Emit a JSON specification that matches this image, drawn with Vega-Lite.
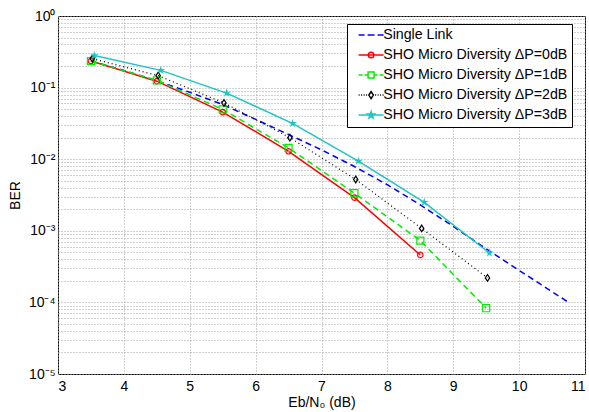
{
  "$schema": "https://vega.github.io/schema/vega-lite/v6.json",
  "width": 527,
  "height": 358,
  "autosize": {"type": "none"},
  "padding": {"left": 58, "top": 16, "right": 4, "bottom": 38},
  "background": "white",
  "config": {
    "view": {"stroke": "#000000", "strokeWidth": 1},
    "font": "Liberation Sans",
    "axis": {
      "labelFont": "Liberation Sans",
      "labelFontSize": 14,
      "labelColor": "#000000",
      "titleFont": "Liberation Sans",
      "titleFontSize": 14,
      "titleFontWeight": "normal",
      "titleColor": "#000000",
      "domain": false,
      "ticks": false,
      "grid": true,
      "gridColor": "#a0a0a0",
      "gridDash": [1, 2],
      "gridWidth": 1
    }
  },
  "data": {
    "values": [
      {"series": "Single Link", "x": 3.5, "y": 0.235},
      {"series": "Single Link", "x": 4.0, "y": 0.174},
      {"series": "Single Link", "x": 4.5, "y": 0.124},
      {"series": "Single Link", "x": 5.0, "y": 0.086},
      {"series": "Single Link", "x": 5.5, "y": 0.058},
      {"series": "Single Link", "x": 6.0, "y": 0.036},
      {"series": "Single Link", "x": 6.5, "y": 0.0221},
      {"series": "Single Link", "x": 7.0, "y": 0.0135},
      {"series": "Single Link", "x": 7.5, "y": 0.0079},
      {"series": "Single Link", "x": 8.0, "y": 0.0044},
      {"series": "Single Link", "x": 8.5, "y": 0.0023},
      {"series": "Single Link", "x": 9.0, "y": 0.00115},
      {"series": "Single Link", "x": 9.5, "y": 0.00056},
      {"series": "Single Link", "x": 10.0, "y": 0.00028},
      {"series": "Single Link", "x": 10.5, "y": 0.000141},
      {"series": "Single Link", "x": 10.75, "y": 0.0001},
      {"series": "SHO Micro Diversity ΔP=0dB", "x": 3.5, "y": 0.235},
      {"series": "SHO Micro Diversity ΔP=0dB", "x": 4.5, "y": 0.123},
      {"series": "SHO Micro Diversity ΔP=0dB", "x": 5.5, "y": 0.0455},
      {"series": "SHO Micro Diversity ΔP=0dB", "x": 6.5, "y": 0.0129},
      {"series": "SHO Micro Diversity ΔP=0dB", "x": 7.5, "y": 0.0029},
      {"series": "SHO Micro Diversity ΔP=0dB", "x": 8.5, "y": 0.00046},
      {"series": "SHO Micro Diversity ΔP=1dB", "x": 3.5, "y": 0.235},
      {"series": "SHO Micro Diversity ΔP=1dB", "x": 4.5, "y": 0.126},
      {"series": "SHO Micro Diversity ΔP=1dB", "x": 5.5, "y": 0.0495},
      {"series": "SHO Micro Diversity ΔP=1dB", "x": 6.5, "y": 0.0144},
      {"series": "SHO Micro Diversity ΔP=1dB", "x": 7.5, "y": 0.00335},
      {"series": "SHO Micro Diversity ΔP=1dB", "x": 8.5, "y": 0.00073},
      {"series": "SHO Micro Diversity ΔP=1dB", "x": 9.5, "y": 0.000083},
      {"series": "SHO Micro Diversity ΔP=2dB", "x": 3.52, "y": 0.254},
      {"series": "SHO Micro Diversity ΔP=2dB", "x": 4.52, "y": 0.147},
      {"series": "SHO Micro Diversity ΔP=2dB", "x": 5.52, "y": 0.061},
      {"series": "SHO Micro Diversity ΔP=2dB", "x": 6.52, "y": 0.020},
      {"series": "SHO Micro Diversity ΔP=2dB", "x": 7.52, "y": 0.0052},
      {"series": "SHO Micro Diversity ΔP=2dB", "x": 8.52, "y": 0.00108},
      {"series": "SHO Micro Diversity ΔP=2dB", "x": 9.52, "y": 0.00022},
      {"series": "SHO Micro Diversity ΔP=3dB", "x": 3.55, "y": 0.28},
      {"series": "SHO Micro Diversity ΔP=3dB", "x": 4.56, "y": 0.174},
      {"series": "SHO Micro Diversity ΔP=3dB", "x": 5.56, "y": 0.0838},
      {"series": "SHO Micro Diversity ΔP=3dB", "x": 6.56, "y": 0.0316},
      {"series": "SHO Micro Diversity ΔP=3dB", "x": 7.56, "y": 0.0094},
      {"series": "SHO Micro Diversity ΔP=3dB", "x": 8.56, "y": 0.0025},
      {"series": "SHO Micro Diversity ΔP=3dB", "x": 9.55, "y": 0.00049}
    ]
  },
  "encoding": {
    "x": {
      "field": "x",
      "type": "quantitative",
      "scale": {"domain": [3, 11], "nice": false, "zero": false},
      "axis": {
        "values": [3, 4, 5, 6, 7, 8, 9, 10, 11],
        "title": "Eb/N₀ (dB)",
        "labelPadding": 5,
        "titlePadding": 2
      }
    },
    "y": {
      "field": "y",
      "type": "quantitative",
      "scale": {"type": "log", "domain": [0.00001, 1], "nice": false},
      "axis": {
        "values": [0.00001, 0.00002, 0.00003, 0.00004, 0.00005, 0.00006, 0.00007, 0.00008, 0.00009,
                   0.0001, 0.0002, 0.0003, 0.0004, 0.0005, 0.0006, 0.0007, 0.0008, 0.0009,
                   0.001, 0.002, 0.003, 0.004, 0.005, 0.006, 0.007, 0.008, 0.009,
                   0.01, 0.02, 0.03, 0.04, 0.05, 0.06, 0.07, 0.08, 0.09,
                   0.1, 0.2, 0.3, 0.4, 0.5, 0.6, 0.7, 0.8, 0.9, 1],
        "labelExpr": "abs(log(datum.value)/LN10 - round(log(datum.value)/LN10)) > 0.001 ? '' : (round(log(datum.value)/LN10) == 0 ? '10⁰' : round(log(datum.value)/LN10) == -1 ? '10⁻¹' : round(log(datum.value)/LN10) == -2 ? '10⁻²' : round(log(datum.value)/LN10) == -3 ? '10⁻³' : round(log(datum.value)/LN10) == -4 ? '10⁻⁴' : '10⁻⁵')",
        "title": "BER",
        "labelPadding": 3,
        "titlePadding": 6,
        "labelOverlap": false
      }
    }
  },
  "layer": [
    {
      "transform": [{"filter": "datum.series == 'Single Link'"}],
      "mark": {"type": "line", "color": "#0000ff", "strokeWidth": 1.5, "strokeDash": [6, 4]},
      "encoding": {}
    },
    {
      "transform": [{"filter": "datum.series == 'SHO Micro Diversity ΔP=0dB'"}],
      "mark": {"type": "line", "color": "#ff0000", "strokeWidth": 1.5},
      "encoding": {}
    },
    {
      "transform": [{"filter": "datum.series == 'SHO Micro Diversity ΔP=1dB'"}],
      "mark": {"type": "line", "color": "#00ee00", "strokeWidth": 1.5, "strokeDash": [6, 4]},
      "encoding": {}
    },
    {
      "transform": [{"filter": "datum.series == 'SHO Micro Diversity ΔP=2dB'"}],
      "mark": {"type": "line", "color": "#000000", "strokeWidth": 1.2, "strokeDash": [1, 3]},
      "encoding": {}
    },
    {
      "transform": [{"filter": "datum.series == 'SHO Micro Diversity ΔP=3dB'"}],
      "mark": {"type": "line", "color": "#1fc4c4", "strokeWidth": 1.5},
      "encoding": {}
    },
    {
      "transform": [{"filter": "datum.series == 'SHO Micro Diversity ΔP=0dB'"}],
      "mark": {"type": "point", "shape": "circle", "filled": false, "color": "#ff0000", "size": 30, "strokeWidth": 1.2, "opacity": 1}
    },
    {
      "transform": [{"filter": "datum.series == 'SHO Micro Diversity ΔP=1dB'"}],
      "mark": {"type": "point", "shape": "square", "filled": false, "color": "#00ee00", "size": 50, "strokeWidth": 1.2, "opacity": 1}
    },
    {
      "transform": [{"filter": "datum.series == 'SHO Micro Diversity ΔP=2dB'"}],
      "mark": {"type": "point", "shape": "M0,-1L0.65,0L0,1L-0.65,0Z", "filled": false, "color": "#000000", "size": 45, "strokeWidth": 1.2, "opacity": 1}
    },
    {
      "transform": [{"filter": "datum.series == 'SHO Micro Diversity ΔP=3dB'"}],
      "mark": {"type": "point", "shape": "M0,-1L0.223,-0.307L0.951,-0.309L0.361,0.117L0.588,0.809L0,0.38L-0.588,0.809L-0.361,0.117L-0.951,-0.309L-0.223,-0.307Z", "filled": true, "color": "#1fc4c4", "size": 80, "opacity": 1}
    },
    {
      "transform": [{"filter": "datum.x > 100"}],
      "mark": {"type": "point", "filled": false, "opacity": 1, "strokeWidth": 1.5},
      "encoding": {
        "color": {
          "field": "series",
          "type": "nominal",
          "scale": {
            "domain": ["Single Link", "SHO Micro Diversity ΔP=0dB", "SHO Micro Diversity ΔP=1dB", "SHO Micro Diversity ΔP=2dB", "SHO Micro Diversity ΔP=3dB"],
            "range": ["#0000ff", "#ff0000", "#00ee00", "#000000", "#1fc4c4"]
          },
          "legend": {
            "title": null,
            "orient": "none",
            "legendX": 289,
            "legendY": 8,
            "strokeColor": "#000000",
            "fillColor": "#ffffff",
            "padding": 4,
            "symbolSize": 100,
            "symbolStrokeWidth": 1.5,
            "symbolOffset": 13,
            "labelOffset": 5,
            "rowPadding": 5,
            "labelFont": "Liberation Sans",
            "labelFontSize": 14.2,
            "labelColor": "#000000",
            "labelLimit": 400
          }
        },
        "shape": {
          "field": "series",
          "type": "nominal",
          "scale": {
            "domain": ["Single Link", "SHO Micro Diversity ΔP=0dB", "SHO Micro Diversity ΔP=1dB", "SHO Micro Diversity ΔP=2dB", "SHO Micro Diversity ΔP=3dB"],
            "range": [
              "M-2.5,0H-1.3M-0.7,0H0.7M1.3,0H2.5",
              "M-2.5,0H2.5M-0.55,0A0.55,0.55 0 1,0 0.55,0A0.55,0.55 0 1,0 -0.55,0Z",
              "M-2.5,0H-1.7M-1.3,0H-0.6M0.6,0H1.3M1.7,0H2.5M-0.6,-0.6H0.6V0.6H-0.6Z",
              "M-2.5,0H-2.3M-2,0H-1.8M-1.5,0H-1.3M-1,0H-0.8M0.8,0H1M1.3,0H1.5M1.8,0H2M2.3,0H2.5M0,-0.7L0.45,0L0,0.7L-0.45,0Z",
              "M-2.5,0H2.5M0,-0.7L0.159,-0.218L0.666,-0.216L0.257,0.083L0.412,0.566L0,0.27L-0.412,0.566L-0.257,0.083L-0.666,-0.216L-0.159,-0.218Z"
            ]
          }
        }
      }
    }
  ]
}
